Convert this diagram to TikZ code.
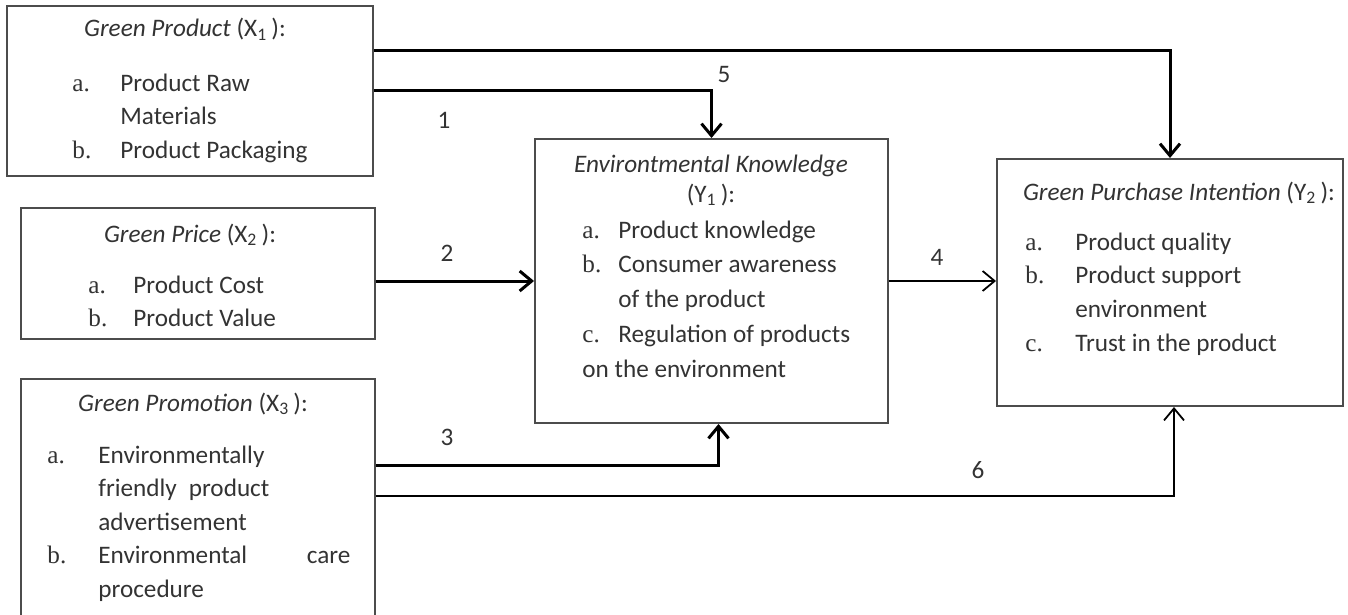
\documentclass[tikz,border=0pt]{standalone}
\usepackage{fontspec}
\setmainfont{Carlito}
\newfontfamily\mkfont{Liberation Serif}
\usetikzlibrary{arrows.meta, fit}
\newcommand{\itm}[1]{{\mkfont #1}}

\tikzset{
  box/.style={draw=black!70, line width=1pt, inner sep=0pt},
  ttl/.style={anchor=base, inner sep=0pt, text=black!80},
  lst/.style={anchor=base west, inner sep=0pt, text=black!80},
  num/.style={inner sep=0pt, text=black!80},
  thk/.style={line width=1.5pt, -{Straight Barb[length=6pt, width=10pt]}},
  thn/.style={line width=0.9pt, -{Straight Barb[length=6pt, width=10pt]}},
}

\begin{document}
\begin{tikzpicture}[x=0.5pt, y=-0.5pt, font=\fontsize{12.6}{16.8}\selectfont]
  \useasboundingbox (0,0) rectangle (1348,615);
  \clip (0,0) rectangle (1348,615);
  % boxes
  \node[box, fit={(7,6) (373,176)}] (prod) {};
  \node[box, fit={(21,208) (375,339)}] (price) {};
  \node[box, fit={(21,379) (375,625)}] (promo) {};
  \node[box, fit={(535,139) (888,423)}] (know) {};
  \node[box, fit={(997,159) (1343,406)}] (intent) {};
  % titles
  \node[ttl] (prodttl) at (185,37) {\textit{Green Product} (X\textsubscript{1}\,):};
  \node[ttl] (pricettl) at (190,242) {\textit{Green Price} (X\textsubscript{2}\,):};
  \node[ttl] (promottl) at (193,411) {\textit{Green Promotion} (X\textsubscript{3}\,):};
  \node[ttl] (knowttl) at (711,172) {\begin{tabular}[t]{@{}c@{}}
      \textit{Environtmental Knowledge}\\[-1.8pt]
      (Y\textsubscript{1}\,):
    \end{tabular}};
  \node[ttl] (intentttl) at (1179,200) {\textit{Green Purchase Intention} (Y\textsubscript{2}\,):};
  % indicator lists
  \node[lst] (prodlst) at (72,91) {\begin{tabular}[t]{@{}p{24pt}@{}l@{}}
      \itm{a.} & Product Raw\\
               & Materials\\
      \itm{b.} & Product Packaging
    \end{tabular}};
  \node[lst] (pricelst) at (88,293) {\begin{tabular}[t]{@{}p{22.5pt}@{}l@{}}
      \itm{a.} & Product Cost\\
      \itm{b.} & Product Value
    \end{tabular}};
  \node[lst] (promolst) at (47,463) {\begin{tabular}[t]{@{}p{25.5pt}@{}l@{}}
      \itm{a.} & Environmentally\\
               & friendly\hspace{6pt}product\\
               & advertisement\\
      \itm{b.} & \hbox to 126pt{Environmental\hfill care}\\
               & procedure
    \end{tabular}};
  \node[lst] (knowlst) at (582,238) {\renewcommand{\arraystretch}{1.04}%
    \begin{tabular}[t]{@{}p{18pt}@{}l@{}}
      \itm{a.} & Product knowledge\\
      \itm{b.} & Consumer awareness\\
               & of the product\\
      \itm{c.} & Regulation of products\\
      \multicolumn{2}{@{}l@{}}{on the environment}
    \end{tabular}};
  \node[lst] (intentlst) at (1025,250) {\renewcommand{\arraystretch}{1.01}%
    \begin{tabular}[t]{@{}p{25pt}@{}l@{}}
      \itm{a.} & Product quality\\
      \itm{b.} & Product support\\
               & environment\\
      \itm{c.} & Trust in the product
    \end{tabular}};
  % paths
  \draw[thk] ([yshift=20pt]prod.east) -| (intent.north);
  \draw[thk] (prod.east) -| (know.north);
  \draw[thk] (price.east |- know.west) -- (know.west);
  \draw[thn] (know.east) -- (know.east -| intent.west);
  \draw[thk] ([yshift=18.5pt]promo.east) -| ([xshift=3.5pt]know.south);
  \draw[thn] ([yshift=3pt]promo.east) -| ([xshift=2pt]intent.south);
  % path numbers
  \node[num] (n1) at (444,120) {1};
  \node[num] (n2) at (447,253) {2};
  \node[num] (n3) at (447,437) {3};
  \node[num] (n4) at (937,257) {4};
  \node[num] (n5) at (724,75) {5};
  \node[num] (n6) at (978,470) {6};
\end{tikzpicture}
\end{document}
